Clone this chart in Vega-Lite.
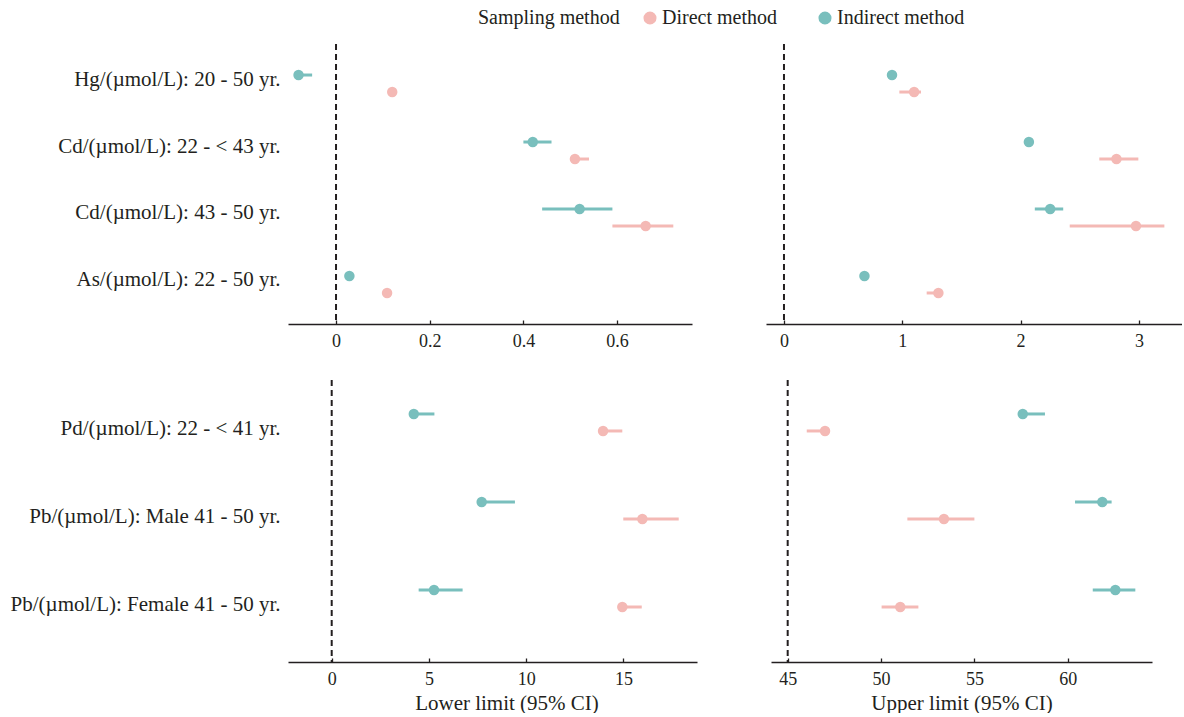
{
  "$schema": "https://vega.github.io/schema/vega-lite/v6.json",
  "padding": {"left": 0, "top": 8, "right": 0, "bottom": 0},
  "spacing": 29,
  "datasets": {
    "top": [
      {"item": "Hg/(µmol/L): 20 - 50 yr.", "method": "Indirect method", "lower_est": -0.080, "lower_lo": -0.088, "lower_hi": -0.051, "upper_est": 0.913, "upper_lo": 0.905, "upper_hi": 0.92},
      {"item": "Hg/(µmol/L): 20 - 50 yr.", "method": "Direct method", "lower_est": 0.12, "lower_lo": 0.115, "lower_hi": 0.125, "upper_est": 1.10, "upper_lo": 0.975, "upper_hi": 1.158},
      {"item": "Cd/(µmol/L): 22 - < 43 yr.", "method": "Indirect method", "lower_est": 0.42, "lower_lo": 0.40, "lower_hi": 0.46, "upper_est": 2.07, "upper_lo": 2.03, "upper_hi": 2.09},
      {"item": "Cd/(µmol/L): 22 - < 43 yr.", "method": "Direct method", "lower_est": 0.51, "lower_lo": 0.50, "lower_hi": 0.54, "upper_est": 2.81, "upper_lo": 2.665, "upper_hi": 2.995},
      {"item": "Cd/(µmol/L): 43 - 50 yr.", "method": "Indirect method", "lower_est": 0.52, "lower_lo": 0.44, "lower_hi": 0.59, "upper_est": 2.25, "upper_lo": 2.12, "upper_hi": 2.36},
      {"item": "Cd/(µmol/L): 43 - 50 yr.", "method": "Direct method", "lower_est": 0.661, "lower_lo": 0.59, "lower_hi": 0.72, "upper_est": 2.975, "upper_lo": 2.415, "upper_hi": 3.215},
      {"item": "As/(µmol/L): 22 - 50 yr.", "method": "Indirect method", "lower_est": 0.0285, "lower_lo": 0.025, "lower_hi": 0.032, "upper_est": 0.68, "upper_lo": 0.675, "upper_hi": 0.685},
      {"item": "As/(µmol/L): 22 - 50 yr.", "method": "Direct method", "lower_est": 0.109, "lower_lo": 0.105, "lower_hi": 0.113, "upper_est": 1.305, "upper_lo": 1.206, "upper_hi": 1.32}
    ],
    "bottom": [
      {"item": "Pd/(µmol/L): 22 - < 41 yr.", "method": "Indirect method", "lower_est": 4.22, "lower_lo": 4.1, "lower_hi": 5.28, "upper_est": 57.59, "upper_lo": 57.4, "upper_hi": 58.78},
      {"item": "Pd/(µmol/L): 22 - < 41 yr.", "method": "Direct method", "lower_est": 13.95, "lower_lo": 13.8, "lower_hi": 14.94, "upper_est": 47.0, "upper_lo": 46.02, "upper_hi": 47.1},
      {"item": "Pb/(µmol/L): Male 41 - 50 yr.", "method": "Indirect method", "lower_est": 7.71, "lower_lo": 7.6, "lower_hi": 9.42, "upper_est": 61.85, "upper_lo": 60.39, "upper_hi": 62.35},
      {"item": "Pb/(µmol/L): Male 41 - 50 yr.", "method": "Direct method", "lower_est": 15.97, "lower_lo": 14.99, "lower_hi": 17.84, "upper_est": 53.37, "upper_lo": 51.41, "upper_hi": 55.0},
      {"item": "Pb/(µmol/L): Female 41 - 50 yr.", "method": "Indirect method", "lower_est": 5.26, "lower_lo": 4.47, "lower_hi": 6.73, "upper_est": 62.55, "upper_lo": 61.34, "upper_hi": 63.62},
      {"item": "Pb/(µmol/L): Female 41 - 50 yr.", "method": "Direct method", "lower_est": 14.94, "lower_lo": 14.8, "lower_hi": 15.94, "upper_est": 51.03, "upper_lo": 50.03, "upper_hi": 52.0}
    ]
  },
  "vconcat": [
    {
      "hconcat": [
        {
          "width": 404, "height": 280,
          "data": {"name": "top"},
          "layer": [
            {"data": {"values": [{"ref": 0}]}, "mark": {"type": "rule", "strokeDash": [6, 4], "strokeWidth": 2, "color": "#231f20"},
             "encoding": {"x": {"field": "ref", "type": "quantitative", "scale": {"domain": [-0.1025, 0.7599], "nice": false, "zero": false}, "axis": {"values": [0, 0.2, 0.4, 0.6], "format": "~g", "title": null}}}},
            {"mark": {"type": "rule", "strokeWidth": 3},
             "encoding": {
               "y": {"field": "item", "type": "nominal", "sort": ["Hg/(µmol/L): 20 - 50 yr.", "Cd/(µmol/L): 22 - < 43 yr.", "Cd/(µmol/L): 43 - 50 yr.", "As/(µmol/L): 22 - 50 yr."], "scale": {"paddingInner": 0, "paddingOuter": 0.09}, "axis": {"title": null, "domain": false, "ticks": false, "labelPadding": 8, "labelOffset": -4, "labelFontSize": 21, "minExtent": 288, "maxExtent": 400, "labelLimit": 400}},
               "yOffset": {"field": "method", "type": "nominal", "sort": ["Indirect method", "Direct method"], "scale": {"paddingInner": 0, "paddingOuter": 0.97}},
               "x": {"field": "lower_lo", "type": "quantitative", "scale": {"domain": [-0.1025, 0.7599], "nice": false, "zero": false}, "axis": {"values": [0, 0.2, 0.4, 0.6], "format": "~g", "title": null}},
               "x2": {"field": "lower_hi"},
               "color": {"field": "method", "type": "nominal", "scale": {"domain": ["Direct method", "Indirect method"], "range": ["#F4B9B5", "#79BFBD"]}, "legend": {"title": "Sampling method"}}
             }},
            {"mark": {"type": "circle", "size": 110, "opacity": 1},
             "encoding": {
               "y": {"field": "item", "type": "nominal", "sort": ["Hg/(µmol/L): 20 - 50 yr.", "Cd/(µmol/L): 22 - < 43 yr.", "Cd/(µmol/L): 43 - 50 yr.", "As/(µmol/L): 22 - 50 yr."], "scale": {"paddingInner": 0, "paddingOuter": 0.09}, "axis": {"title": null, "domain": false, "ticks": false, "labelPadding": 8, "labelOffset": -4, "labelFontSize": 21, "minExtent": 288, "maxExtent": 400, "labelLimit": 400}},
               "yOffset": {"field": "method", "type": "nominal", "sort": ["Indirect method", "Direct method"], "scale": {"paddingInner": 0, "paddingOuter": 0.97}},
               "x": {"field": "lower_est", "type": "quantitative", "scale": {"domain": [-0.1025, 0.7599], "nice": false, "zero": false}, "axis": {"values": [0, 0.2, 0.4, 0.6], "format": "~g", "title": null}},
               "color": {"field": "method", "type": "nominal", "scale": {"domain": ["Direct method", "Indirect method"], "range": ["#F4B9B5", "#79BFBD"]}, "legend": {"title": "Sampling method"}}
             }}
          ]
        },
        {
          "width": 416, "height": 280,
          "data": {"name": "top"},
          "layer": [
            {"data": {"values": [{"ref": 0}]}, "mark": {"type": "rule", "strokeDash": [6, 4], "strokeWidth": 2, "color": "#231f20"},
             "encoding": {"x": {"field": "ref", "type": "quantitative", "scale": {"domain": [-0.152, 3.364], "nice": false, "zero": false}, "axis": {"values": [0, 1, 2, 3], "format": "~g", "title": null}}}},
            {"mark": {"type": "rule", "strokeWidth": 3},
             "encoding": {
               "y": {"field": "item", "type": "nominal", "sort": ["Hg/(µmol/L): 20 - 50 yr.", "Cd/(µmol/L): 22 - < 43 yr.", "Cd/(µmol/L): 43 - 50 yr.", "As/(µmol/L): 22 - 50 yr."], "scale": {"paddingInner": 0, "paddingOuter": 0.09}, "axis": null},
               "yOffset": {"field": "method", "type": "nominal", "sort": ["Indirect method", "Direct method"], "scale": {"paddingInner": 0, "paddingOuter": 0.97}},
               "x": {"field": "upper_lo", "type": "quantitative", "scale": {"domain": [-0.152, 3.364], "nice": false, "zero": false}, "axis": {"values": [0, 1, 2, 3], "format": "~g", "title": null}},
               "x2": {"field": "upper_hi"},
               "color": {"field": "method", "type": "nominal", "scale": {"domain": ["Direct method", "Indirect method"], "range": ["#F4B9B5", "#79BFBD"]}, "legend": {"title": "Sampling method"}}
             }},
            {"mark": {"type": "circle", "size": 110, "opacity": 1},
             "encoding": {
               "y": {"field": "item", "type": "nominal", "sort": ["Hg/(µmol/L): 20 - 50 yr.", "Cd/(µmol/L): 22 - < 43 yr.", "Cd/(µmol/L): 43 - 50 yr.", "As/(µmol/L): 22 - 50 yr."], "scale": {"paddingInner": 0, "paddingOuter": 0.09}, "axis": null},
               "yOffset": {"field": "method", "type": "nominal", "sort": ["Indirect method", "Direct method"], "scale": {"paddingInner": 0, "paddingOuter": 0.97}},
               "x": {"field": "upper_est", "type": "quantitative", "scale": {"domain": [-0.152, 3.364], "nice": false, "zero": false}, "axis": {"values": [0, 1, 2, 3], "format": "~g", "title": null}},
               "color": {"field": "method", "type": "nominal", "scale": {"domain": ["Direct method", "Indirect method"], "range": ["#F4B9B5", "#79BFBD"]}, "legend": {"title": "Sampling method"}}
             }}
          ]
        }
      ]
    },
    {
      "hconcat": [
        {
          "width": 409, "height": 282,
          "data": {"name": "bottom"},
          "layer": [
            {"data": {"values": [{"ref": 0}]}, "mark": {"type": "rule", "strokeDash": [6, 4], "strokeWidth": 2, "color": "#231f20"},
             "encoding": {"x": {"field": "ref", "type": "quantitative", "scale": {"domain": [-2.247, 18.78], "nice": false, "zero": false}, "axis": {"values": [0, 5, 10, 15], "format": "~g", "title": "Lower limit (95% CI)", "titleX": 218.5}}}},
            {"mark": {"type": "rule", "strokeWidth": 3},
             "encoding": {
               "y": {"field": "item", "type": "nominal", "sort": ["Pd/(µmol/L): 22 - < 41 yr.", "Pb/(µmol/L): Male 41 - 50 yr.", "Pb/(µmol/L): Female 41 - 50 yr."], "scale": {"paddingInner": 0, "paddingOuter": 0.102}, "axis": {"title": null, "domain": false, "ticks": false, "labelPadding": 8, "labelOffset": -4, "labelFontSize": 21, "minExtent": 288, "maxExtent": 400, "labelLimit": 400}},
               "yOffset": {"field": "method", "type": "nominal", "sort": ["Indirect method", "Direct method"], "scale": {"paddingInner": 0, "paddingOuter": 1.0}},
               "x": {"field": "lower_lo", "type": "quantitative", "scale": {"domain": [-2.247, 18.78], "nice": false, "zero": false}, "axis": {"values": [0, 5, 10, 15], "format": "~g", "title": "Lower limit (95% CI)", "titleX": 218.5}},
               "x2": {"field": "lower_hi"},
               "color": {"field": "method", "type": "nominal", "scale": {"domain": ["Direct method", "Indirect method"], "range": ["#F4B9B5", "#79BFBD"]}, "legend": {"title": "Sampling method"}}
             }},
            {"mark": {"type": "circle", "size": 110, "opacity": 1},
             "encoding": {
               "y": {"field": "item", "type": "nominal", "sort": ["Pd/(µmol/L): 22 - < 41 yr.", "Pb/(µmol/L): Male 41 - 50 yr.", "Pb/(µmol/L): Female 41 - 50 yr."], "scale": {"paddingInner": 0, "paddingOuter": 0.102}, "axis": {"title": null, "domain": false, "ticks": false, "labelPadding": 8, "labelOffset": -4, "labelFontSize": 21, "minExtent": 288, "maxExtent": 400, "labelLimit": 400}},
               "yOffset": {"field": "method", "type": "nominal", "sort": ["Indirect method", "Direct method"], "scale": {"paddingInner": 0, "paddingOuter": 1.0}},
               "x": {"field": "lower_est", "type": "quantitative", "scale": {"domain": [-2.247, 18.78], "nice": false, "zero": false}, "axis": {"values": [0, 5, 10, 15], "format": "~g", "title": "Lower limit (95% CI)", "titleX": 218.5}},
               "color": {"field": "method", "type": "nominal", "scale": {"domain": ["Direct method", "Indirect method"], "range": ["#F4B9B5", "#79BFBD"]}, "legend": {"title": "Sampling method"}}
             }}
          ]
        },
        {
          "width": 381, "height": 282,
          "data": {"name": "bottom"},
          "layer": [
            {"data": {"values": [{"ref": 45}]}, "mark": {"type": "rule", "strokeDash": [6, 4], "strokeWidth": 2, "color": "#231f20"},
             "encoding": {"x": {"field": "ref", "type": "quantitative", "scale": {"domain": [44.106, 64.513], "nice": false, "zero": false}, "axis": {"values": [45, 50, 55, 60], "format": "~g", "title": "Upper limit (95% CI)"}}}},
            {"mark": {"type": "rule", "strokeWidth": 3},
             "encoding": {
               "y": {"field": "item", "type": "nominal", "sort": ["Pd/(µmol/L): 22 - < 41 yr.", "Pb/(µmol/L): Male 41 - 50 yr.", "Pb/(µmol/L): Female 41 - 50 yr."], "scale": {"paddingInner": 0, "paddingOuter": 0.102}, "axis": null},
               "yOffset": {"field": "method", "type": "nominal", "sort": ["Indirect method", "Direct method"], "scale": {"paddingInner": 0, "paddingOuter": 1.0}},
               "x": {"field": "upper_lo", "type": "quantitative", "scale": {"domain": [44.106, 64.513], "nice": false, "zero": false}, "axis": {"values": [45, 50, 55, 60], "format": "~g", "title": "Upper limit (95% CI)"}},
               "x2": {"field": "upper_hi"},
               "color": {"field": "method", "type": "nominal", "scale": {"domain": ["Direct method", "Indirect method"], "range": ["#F4B9B5", "#79BFBD"]}, "legend": {"title": "Sampling method"}}
             }},
            {"mark": {"type": "circle", "size": 110, "opacity": 1},
             "encoding": {
               "y": {"field": "item", "type": "nominal", "sort": ["Pd/(µmol/L): 22 - < 41 yr.", "Pb/(µmol/L): Male 41 - 50 yr.", "Pb/(µmol/L): Female 41 - 50 yr."], "scale": {"paddingInner": 0, "paddingOuter": 0.102}, "axis": null},
               "yOffset": {"field": "method", "type": "nominal", "sort": ["Indirect method", "Direct method"], "scale": {"paddingInner": 0, "paddingOuter": 1.0}},
               "x": {"field": "upper_est", "type": "quantitative", "scale": {"domain": [44.106, 64.513], "nice": false, "zero": false}, "axis": {"values": [45, 50, 55, 60], "format": "~g", "title": "Upper limit (95% CI)"}},
               "color": {"field": "method", "type": "nominal", "scale": {"domain": ["Direct method", "Indirect method"], "range": ["#F4B9B5", "#79BFBD"]}, "legend": {"title": "Sampling method"}}
             }}
          ]
        }
      ]
    }
  ],
  "config": {
    "font": "Liberation Serif",
    "view": {"stroke": null},
    "concat": {"spacing": 74},
    "axis": {"grid": false, "labelColor": "#231f20", "titleColor": "#231f20", "domainColor": "#231f20", "tickColor": "#231f20", "labelFontSize": 18, "titleFontSize": 21, "titleFontWeight": "normal", "domainWidth": 1.3, "tickWidth": 1.3},
    "axisX": {"tickSize": -4, "labelPadding": 12, "titlePadding": 4},
    "legend": {"orient": "none", "legendX": 190, "legendY": -36, "direction": "horizontal", "titleOrient": "left", "titleFontSize": 20, "titleFontWeight": "normal", "labelFontSize": 20, "labelColor": "#231f20", "titleColor": "#231f20", "symbolType": "circle", "symbolSize": 170, "symbolStrokeWidth": 0, "symbolOpacity": 1, "columnPadding": 38, "titlePadding": 20, "labelOffset": 2}
  }
}
